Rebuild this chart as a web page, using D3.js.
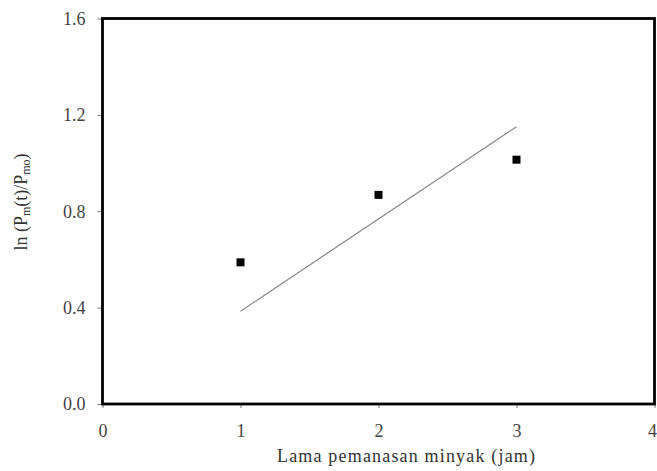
<!DOCTYPE html>
<html>
<head>
<meta charset="utf-8">
<script src="https://cdn.jsdelivr.net/npm/d3@7"></script>
<style>
  body { margin: 0; background: #fff; }
  text { font-family: "Liberation Serif", "DejaVu Serif", serif; }
</style>
</head>
<body>
<div id="chart"></div>
<script>
// data
const hours = [1, 2, 3];
const lnRatio = [0.588, 0.868, 1.014];
const fitHours = [1, 3];
const fitValues = [0.385, 1.151];
const xTicks = [0, 1, 2, 3, 4];
const yTicks = [0, 0.4, 0.8, 1.2, 1.6];

const W = 657, H = 471;
const margin = { top: 18.5, right: 2.5, bottom: 67, left: 102.5 };
const width = W - margin.left - margin.right;
const height = H - margin.top - margin.bottom;

const svg = d3.select("#chart").append("svg")
  .attr("width", W)
  .attr("height", H);

const g = svg.append("g")
  .attr("transform", "translate(" + margin.left + "," + margin.top + ")");

const x = d3.scaleLinear().domain([0, 4]).range([0, width]);
const y = d3.scaleLinear().domain([0, 1.6]).range([height, 0]);

// axes
const xAxis = d3.axisBottom(x)
  .tickValues(xTicks)
  .tickFormat(d3.format("d"))
  .tickSize(4)
  .tickPadding(16);

const yAxis = d3.axisLeft(y)
  .tickValues(yTicks)
  .tickFormat(d3.format(".1f"))
  .tickSize(5)
  .tickPadding(12);

g.append("g")
  .attr("transform", "translate(0," + height + ")")
  .call(xAxis)
  .call(a => a.select(".domain").remove())
  .call(a => a.selectAll("line").attr("stroke", "#777"))
  .call(a => a.selectAll("text")
    .style("font-size", "18px")
    .attr("fill", "#444"))
  // last label sits at the very edge: keep it inside the page
  .call(a => a.selectAll(".tick text")
    .filter(d => d === 4)
    .attr("text-anchor", "end")
    .attr("dx", 2));

g.append("g")
  .call(yAxis)
  .call(a => a.select(".domain").remove())
  .call(a => a.selectAll("line").attr("stroke", "#777"))
  .call(a => a.selectAll("text")
    .style("font-size", "18px")
    .attr("fill", "#444"));

// frame
g.append("rect")
  .attr("x", 0)
  .attr("y", 0)
  .attr("width", width)
  .attr("height", height)
  .attr("fill", "none")
  .attr("stroke", "#000")
  .attr("stroke-width", 2.8);

// model line
const fit = fitHours.map((h, i) => ({ h: h, v: fitValues[i] }));
g.append("path")
  .datum(fit)
  .attr("fill", "none")
  .attr("stroke", "#888")
  .attr("stroke-width", 1.2)
  .attr("d", d3.line().x(d => x(d.h)).y(d => y(d.v)));

// measured points
const pts = hours.map((h, i) => ({ h: h, v: lnRatio[i] }));
const sz = 8;
g.selectAll(".pt")
  .data(pts)
  .enter().append("rect")
  .attr("class", "pt")
  .attr("x", d => x(d.h) - sz / 2)
  .attr("y", d => y(d.v) - sz / 2)
  .attr("width", sz)
  .attr("height", sz)
  .attr("fill", "#000");

// x label
svg.append("text")
  .attr("x", 406)
  .attr("y", 462)
  .attr("text-anchor", "middle")
  .attr("textLength", 258)
  .style("font-size", "18px")
  .attr("fill", "#333")
  .text("Lama pemanasan minyak (jam)");

// y label with subscripts
const yl = svg.append("text")
  .attr("transform", "translate(27,202) rotate(-90)")
  .attr("text-anchor", "middle")
  .style("font-size", "18px")
  .attr("fill", "#333");
yl.append("tspan").text("ln (P");
yl.append("tspan").attr("baseline-shift", "-25%").style("font-size", "12px").text("m");
yl.append("tspan").text("(t)/P");
yl.append("tspan").attr("baseline-shift", "-25%").style("font-size", "12px").text("mo");
yl.append("tspan").text(")");
</script>
</body>
</html>
